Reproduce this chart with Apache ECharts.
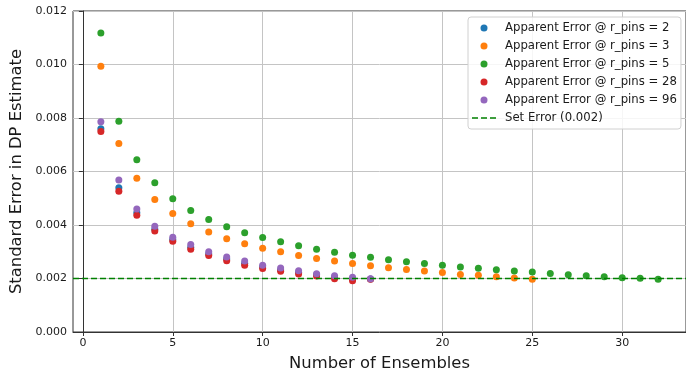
<!DOCTYPE html>
<html>
<head>
<meta charset="utf-8">
<script src="https://cdn.jsdelivr.net/npm/echarts@6/dist/echarts.min.js"></script>
<style>
  html, body { margin: 0; padding: 0; background: #fff; }
  #chart { width: 686px; height: 377px; }
</style>
</head>
<body>
<div id="chart"></div>
<script>
// number of ensembles (x positions)
const ensembles = Array.from({ length: 32 }, (_, i) => i + 1);

// apparent error per r_pins
const errPins2 = [0.00760, 0.00539, 0.00446, 0.00384, 0.00346, 0.00317, 0.00292, 0.00273,
  0.00257, 0.00243, 0.00232, 0.00222, 0.00214, 0.00205, 0.00199, 0.00198];
const errPins3 = [0.00993, 0.00705, 0.00575, 0.00495, 0.00443, 0.00405, 0.00374, 0.00349,
  0.00330, 0.00313, 0.00300, 0.00286, 0.00275, 0.00265, 0.00256, 0.00248, 0.00240, 0.00234,
  0.00228, 0.00222, 0.00215, 0.00212, 0.00207, 0.00202, 0.00197];
const errPins5 = [0.01118, 0.00788, 0.00644, 0.00558, 0.00498, 0.00454, 0.00421, 0.00393,
  0.00371, 0.00353, 0.00337, 0.00322, 0.00309, 0.00298, 0.00287, 0.00279, 0.00270, 0.00263,
  0.00256, 0.00250, 0.00243, 0.00238, 0.00233, 0.00228, 0.00224, 0.00219, 0.00214, 0.00210,
  0.00207, 0.00203, 0.00201, 0.00197];
const errPins28 = [0.00750, 0.00526, 0.00436, 0.00378, 0.00339, 0.00309, 0.00286, 0.00266,
  0.00250, 0.00237, 0.00227, 0.00217, 0.00209, 0.00199, 0.00192, 0.00197];
const errPins96 = [0.00786, 0.00568, 0.00460, 0.00395, 0.00354, 0.00327, 0.00300, 0.00280,
  0.00265, 0.00250, 0.00239, 0.00229, 0.00218, 0.00210, 0.00205, 0.00199];
const setError = 0.002;

const xTicks = [0, 5, 10, 15, 20, 25, 30];
const xMin = -0.55;
const xMax = 33.55;
const colors = ["#1f77b4", "#ff7f0e", "#2ca02c", "#d62728", "#9467bd"];
const font = "DejaVu Sans";

const pointSeries = [
  { name: "Apparent Error @ r_pins = 2", values: errPins2 },
  { name: "Apparent Error @ r_pins = 3", values: errPins3 },
  { name: "Apparent Error @ r_pins = 5", values: errPins5 },
  { name: "Apparent Error @ r_pins = 28", values: errPins28 },
  { name: "Apparent Error @ r_pins = 96", values: errPins96 },
];

let series = pointSeries.map((s, i) => ({
  name: s.name,
  type: "scatter",
  symbol: "circle",
  symbolSize: 7,
  color: colors[i],
  itemStyle: { opacity: 1 },
  data: s.values.map((v, k) => [ensembles[k], v]),
}));

// horizontal reference line across the whole axis range
series.push({
  name: "Set Error (0.002)",
  type: "line",
  data: [[xMin, setError], [xMax, setError]],
  symbol: "none",
  showSymbol: false,
  silent: true,
  color: "#008000",
  lineStyle: { type: [6, 3], width: 1.6, color: "#008000" },
});

const option = {
  animation: false,
  textStyle: { fontFamily: font },
  grid: {
    left: 73,
    right: -1,
    top: 11,
    bottom: 43,
    show: true,
    borderColor: "#333",
    borderWidth: 1,
  },
  legend: {
    orient: "vertical",
    left: 468,
    top: 17,
    padding: [2, 4, 2, 4],
    itemWidth: 24,
    itemHeight: 7,
    itemGap: 0,
    borderColor: "#d0d0d0",
    borderWidth: 1,
    borderRadius: 3,
    backgroundColor: "rgba(255,255,255,0.85)",
    textStyle: {
      fontFamily: font,
      fontSize: 11.7,
      lineHeight: 18,
      color: "#1a1a1a",
      padding: [0, 0, 0, 4],
    },
    data: pointSeries.map((s) => ({ name: s.name, icon: "circle" })).concat([
      {
        name: "Set Error (0.002)",
        icon: "path://M0,0H6V1.6H0Z M9,0H15V1.6H9Z M18,0H24V1.6H18Z",
      },
    ]),
  },
  xAxis: {
    type: "value",
    min: xMin,
    max: xMax,
    name: "Number of Ensembles",
    nameLocation: "middle",
    nameGap: 24,
    nameTextStyle: { fontFamily: font, fontSize: 16.4, color: "#1a1a1a" },
    axisLine: { show: true, onZero: false, lineStyle: { color: "#333", width: 1 } },
    axisTick: { show: true, length: 4, customValues: xTicks, lineStyle: { color: "#333" } },
    axisLabel: {
      customValues: xTicks,
      fontFamily: font,
      fontSize: 11,
      color: "#1a1a1a",
      margin: 6,
    },
    splitLine: { show: true, lineStyle: { color: "#c4c4c4", width: 1 } },
  },
  yAxis: {
    type: "value",
    min: 0,
    max: 0.012,
    interval: 0.002,
    name: "Standard Error in DP Estimate",
    nameLocation: "middle",
    nameGap: 45,
    nameTextStyle: { fontFamily: font, fontSize: 16.4, color: "#1a1a1a" },
    axisLine: { show: true, lineStyle: { color: "#333", width: 1 } },
    axisTick: { show: true, length: 4, lineStyle: { color: "#333" } },
    axisLabel: {
      fontFamily: font,
      fontSize: 11,
      color: "#1a1a1a",
      margin: 6,
      formatter: (v) => v.toFixed(3),
    },
    splitLine: { show: true, lineStyle: { color: "#c4c4c4", width: 1 } },
  },
  series: series,
};

const chart = echarts.init(document.getElementById("chart"));
chart.setOption(option);
</script>
</body>
</html>
